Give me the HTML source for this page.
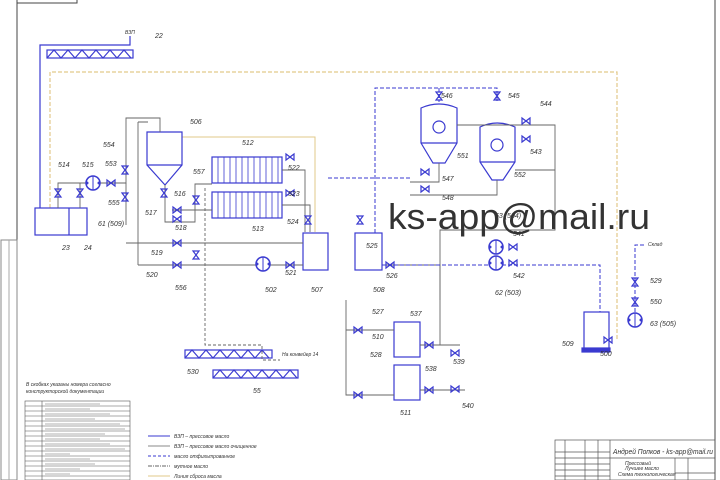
<!DOCTYPE html>
<html><head><meta charset="utf-8"><style>
html,body{margin:0;padding:0;background:#fff;}
svg{display:block}
text{font-family:"Liberation Sans",sans-serif;font-style:italic;fill:#333;}
</style></head><body>
<svg width="720" height="480" viewBox="0 0 720 480" xmlns="http://www.w3.org/2000/svg">
<defs>
<g id="v"><path d="M-4,-3 L4,3 L4,-3 L-4,3 Z" fill="none" stroke="#3a3ad0" stroke-width="1.2"/></g>
<g id="vv"><path d="M-3,-4 L3,4 L-3,4 L3,-4 Z" fill="none" stroke="#3a3ad0" stroke-width="1.2"/></g>
<g id="p"><circle r="7" fill="#fff" stroke="#3a3ad0" stroke-width="1.5"/><line x1="0" y1="-7" x2="0" y2="7" stroke="#3a3ad0"/><circle cx="-6" r="1.5" fill="#3a3ad0"/><circle cx="6" r="1.5" fill="#3a3ad0"/></g>
</defs>
<g stroke="#444" fill="none" stroke-width="1">
<line x1="17" y1="0" x2="17" y2="480"/>
<line x1="715" y1="0" x2="715" y2="480"/>
<rect x="17" y="-1" width="60" height="4"/>
<rect x="1" y="240" width="16" height="240" stroke="#888"/>
<line x1="9" y1="240" x2="9" y2="480" stroke="#aaa"/>
</g>
<path d="M50,208 V72 H617 V340" fill="none" stroke="#e2c98a" stroke-width="1.2" stroke-dasharray="4,2"/>
<path d="M182,137 H315 V232" fill="none" stroke="#e2c98a" stroke-width="1"/>
<g stroke="#3a3ad0" fill="none" stroke-width="1.2">
<path d="M40,208 V45 H130 V36"/>
<rect x="47" y="50" width="86" height="8"/>
<path d="M47,58 L54,50 L61,58 L68,50 L75,58 L82,50 L89,58 L96,50 L103,58 L110,50 L117,58 L124,50 L131,58"/>
<rect x="35" y="208" width="52" height="27"/>
<line x1="69" y1="208" x2="69" y2="235"/>
<path d="M147,132 H182 V165 L165,185 L147,165 Z"/>
<line x1="147" y1="165" x2="182" y2="165"/>
<rect x="212" y="157" width="70" height="26"/>
<rect x="212" y="192" width="70" height="26"/>
<rect x="303" y="233" width="25" height="37"/>
<rect x="355" y="233" width="27" height="37"/>
<path d="M421,108 Q439,100 457,108 V143 L445,163 H433 L421,143 Z"/>
<line x1="421" y1="143" x2="457" y2="143"/>
<circle cx="439" cy="127" r="6"/>
<path d="M480,127 Q497,119 515,127 V162 L503,180 H492 L480,162 Z"/>
<line x1="480" y1="162" x2="515" y2="162"/>
<circle cx="497" cy="145" r="6"/>
<rect x="394" y="322" width="26" height="35"/>
<rect x="394" y="365" width="26" height="35"/>
<rect x="584" y="312" width="25" height="38"/>
<rect x="582" y="348" width="28" height="4" fill="#3a3ad0"/>
<rect x="185" y="350" width="87" height="8"/>
<path d="M185,358 L192,350 L199,358 L206,350 L213,358 L220,350 L227,358 L234,350 L241,358 L248,350 L255,358 L262,350 L269,358"/>
<rect x="213" y="370" width="85" height="8"/>
<path d="M213,378 L220,370 L227,378 L234,370 L241,378 L248,370 L255,378 L262,370 L269,378 L276,370 L283,378 L290,370 L297,378"/>
</g>
<g stroke="#3a3ad0" stroke-width="0.8">
<path d="M218,157V183M224,157V183M230,157V183M236,157V183M242,157V183M248,157V183M254,157V183M260,157V183M266,157V183M272,157V183M278,157V183"/>
<path d="M218,192V218M224,192V218M230,192V218M236,192V218M242,192V218M248,192V218M254,192V218M260,192V218M266,192V218M272,192V218M278,192V218"/>
</g>
<g stroke="#666" fill="none" stroke-width="0.9">
<path d="M58,208 V183 H86 M100,183 H126 V118 H160 V132"/>
<path d="M80,208 V183"/>
<path d="M126,183 V225 M138,122 H148 M138,122 V265"/>
<path d="M165,185 V222 H195 V184 H212"/>
<path d="M172,210 H212"/>
<path d="M126,243 H303"/>
<path d="M138,265 H256 M270,265 H303"/>
<path d="M282,170 H305 V232 M282,205 H310 V232"/>
<path d="M382,265 H440 V300 M346,300 V395 H394 M346,330 H394"/>
<path d="M420,345 H440 V230 H555 V125 H457"/>
<path d="M420,390 H465 M420,345 H460"/>
<path d="M555,170 H515"/>
<path d="M439,163 V182 H410 M497,180 V195 H410"/>
</g>
<g stroke="#3a3ad0" fill="none" stroke-width="1" stroke-dasharray="4,2">
<path d="M375,233 V88 H497 V102 M439,88 V102"/>
<path d="M382,265 H600 V312"/>
<path d="M635,312 V245 H645"/>
<path d="M328,178 H410"/>
</g>
<g stroke="#666" fill="none" stroke-width="0.9" stroke-dasharray="3,2">
<path d="M205,188 V345 H262 V360 H280"/>
</g>
<use href="#p" x="93" y="183"/>
<use href="#p" x="263" y="264"/>
<use href="#p" x="496" y="247"/>
<use href="#p" x="496" y="263"/>
<use href="#p" x="635" y="320"/>
<use href="#vv" x="58" y="193"/><use href="#vv" x="80" y="193"/>
<use href="#v" x="111" y="183"/><use href="#vv" x="125" y="170"/><use href="#vv" x="125" y="197"/>
<use href="#vv" x="164" y="193"/><use href="#v" x="177" y="210"/><use href="#v" x="177" y="219"/>
<use href="#vv" x="196" y="200"/><use href="#v" x="177" y="243"/><use href="#v" x="177" y="265"/>
<use href="#vv" x="196" y="255"/><use href="#v" x="290" y="265"/>
<use href="#v" x="290" y="157"/><use href="#v" x="290" y="193"/><use href="#vv" x="308" y="220"/>
<use href="#vv" x="360" y="220"/><use href="#v" x="390" y="265"/>
<use href="#vv" x="439" y="96"/><use href="#vv" x="497" y="96"/>
<use href="#v" x="526" y="121"/><use href="#v" x="526" y="139"/>
<use href="#v" x="425" y="172"/><use href="#v" x="425" y="189"/>
<use href="#v" x="513" y="247"/><use href="#v" x="513" y="263"/>
<use href="#v" x="358" y="330"/><use href="#v" x="358" y="395"/>
<use href="#v" x="429" y="345"/><use href="#v" x="429" y="390"/>
<use href="#v" x="455" y="353"/><use href="#v" x="455" y="389"/>
<use href="#vv" x="635" y="282"/><use href="#vv" x="635" y="302"/>
<use href="#v" x="608" y="340"/>
<g font-size="7">
<text x="155" y="38">22</text><text x="125" y="34" font-size="5">ВЗП</text>
<text x="190" y="124">506</text><text x="242" y="145">512</text><text x="252" y="231">513</text>
<text x="58" y="167">514</text><text x="82" y="167">515</text><text x="105" y="166">553</text>
<text x="103" y="147">554</text><text x="108" y="205">555</text><text x="98" y="226">61 (509)</text>
<text x="174" y="196">516</text><text x="193" y="174">557</text><text x="145" y="215">517</text>
<text x="175" y="230">518</text><text x="151" y="255">519</text><text x="146" y="277">520</text>
<text x="175" y="290">556</text><text x="265" y="292">502</text><text x="285" y="275">521</text>
<text x="311" y="292">507</text><text x="288" y="170">522</text><text x="288" y="196">523</text>
<text x="287" y="224">524</text><text x="366" y="248">525</text><text x="386" y="278">526</text>
<text x="373" y="292">508</text><text x="441" y="98">546</text><text x="508" y="98">545</text>
<text x="540" y="106">544</text><text x="530" y="154">543</text><text x="457" y="158">551</text>
<text x="514" y="177">552</text><text x="442" y="181">547</text><text x="442" y="200">548</text>
<text x="495" y="218">63 (504)</text><text x="513" y="236">541</text><text x="513" y="278">542</text>
<text x="495" y="295">62 (503)</text><text x="372" y="314">527</text><text x="410" y="316">537</text>
<text x="372" y="339">510</text><text x="370" y="357">528</text><text x="425" y="371">538</text>
<text x="453" y="364">539</text><text x="462" y="408">540</text><text x="400" y="415">511</text>
<text x="562" y="346">509</text><text x="600" y="356">500</text><text x="650" y="283">529</text>
<text x="650" y="304">550</text><text x="650" y="326">63 (505)</text><text x="648" y="246" font-size="5">Склад</text>
<text x="62" y="250">23</text><text x="84" y="250">24</text>
<text x="187" y="374">530</text><text x="253" y="393">55</text>
<text x="282" y="356" font-size="5">На конвейер 14</text>
</g>
<text x="388" y="229" font-size="36" textLength="262" lengthAdjust="spacingAndGlyphs" style="font-style:normal" fill="#b4b4b4">ks-app@mail.ru</text>
<text x="26" y="386" font-size="5">В скобках указаны номера согласно</text>
<text x="26" y="393" font-size="5">конструкторской документации</text>
<g stroke="#555" fill="none" stroke-width="0.6">
<rect x="25" y="401" width="105" height="79"/>
<line x1="42" y1="401" x2="42" y2="480"/>
<path d="M25,406H130M25,411H130M25,416H130M25,421H130M25,426H130M25,431H130M25,436H130M25,441H130M25,446H130M25,451H130M25,456H130M25,461H130M25,466H130M25,471H130M25,476H130"/>
</g>
<g stroke="#666" stroke-width="0.6">
<path d="M45,404H100M45,409H90M45,414H110M45,419H95M45,424H120M45,429H125M45,434H105M45,439H100M45,444H110M45,449H125M45,454H70M45,459H90M45,464H95M45,469H80M45,474H70"/>
</g>
<g stroke-width="1" fill="none">
<line x1="148" y1="436" x2="170" y2="436" stroke="#3a3ad0"/>
<line x1="148" y1="446" x2="170" y2="446" stroke="#888"/>
<line x1="148" y1="456" x2="170" y2="456" stroke="#3a3ad0" stroke-dasharray="3,2"/>
<line x1="148" y1="466" x2="170" y2="466" stroke="#666" stroke-dasharray="4,1,1,1"/>
<line x1="148" y1="476" x2="170" y2="476" stroke="#e2c98a"/>
</g>
<g font-size="5">
<text x="174" y="438">ВЗП – прессовое масло</text>
<text x="174" y="448">ВЗП – прессовое масло очищенное</text>
<text x="174" y="458">масло отфильтрованное</text>
<text x="174" y="468">мутное масло</text>
<text x="174" y="478">Линия сброса масла</text>
</g>
<g stroke="#555" fill="none" stroke-width="0.7">
<rect x="555" y="440" width="160" height="40"/>
<line x1="610" y1="440" x2="610" y2="480"/><line x1="610" y1="458" x2="715" y2="458"/>
<line x1="555" y1="452" x2="610" y2="452"/><line x1="555" y1="458" x2="610" y2="458"/>
<line x1="565" y1="440" x2="565" y2="480"/><line x1="585" y1="440" x2="585" y2="480"/><line x1="598" y1="440" x2="598" y2="480"/>
<line x1="675" y1="458" x2="675" y2="480"/><line x1="675" y1="473" x2="715" y2="473"/><line x1="688" y1="458" x2="688" y2="480"/>
<path d="M555,464H610M555,470H610M555,476H610"/>
</g>
<text x="613" y="454" font-size="7" textLength="100" lengthAdjust="spacingAndGlyphs">Андрей Попков - ks-app@mail.ru</text>
<text x="625" y="465" font-size="5">Прессовый</text>
<text x="625" y="470" font-size="5">Лучшее масло</text>
<text x="618" y="476" font-size="5">Схема технологическая</text>
</svg>
</body></html>
